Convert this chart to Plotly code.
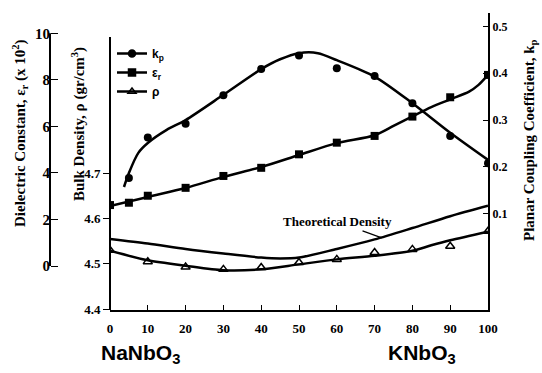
import plotly.graph_objects as go

# ---------------- data ----------------
# x: mol % KNbO3
kp_x = [5, 10, 20, 30, 40, 50, 60, 70, 80, 90, 100]
kp_vals = [0.176, 0.263, 0.292, 0.353, 0.409, 0.438, 0.411, 0.394, 0.336, 0.266, 0.208]
kp_curve_x = [3.7, 5, 7.5, 10, 15, 20, 30, 40, 45, 50, 55, 60, 70, 80, 90, 100]
kp_curve_vals = [0.157, 0.187, 0.230, 0.251, 0.279, 0.300, 0.354, 0.409, 0.430, 0.443,
                 0.443, 0.428, 0.393, 0.336, 0.273, 0.215]

eps_x = [0, 5, 10, 20, 30, 40, 50, 60, 70, 80, 90, 100]
eps_vals = [2.62, 2.72, 3.02, 3.36, 3.87, 4.22, 4.80, 5.30, 5.59, 6.42, 7.25, 8.21]
eps_curve_x = [0, 10, 20, 30, 40, 50, 60, 70, 75, 80, 85, 90, 95, 97.5, 100]
eps_curve_vals = [2.58, 2.97, 3.35, 3.83, 4.25, 4.77, 5.28, 5.62, 6.02, 6.43, 6.83,
                  7.16, 7.49, 7.78, 8.21]

rho_x = [0, 10, 20, 30, 40, 50, 60, 70, 80, 90, 100]
rho_vals = [4.530, 4.505, 4.493, 4.488, 4.492, 4.503, 4.510, 4.525, 4.532, 4.539, 4.572]
rho_curve_x = [0, 10, 20, 30, 40, 50, 60, 70, 80, 85, 90, 100]
rho_curve_vals = [4.529, 4.508, 4.496, 4.486, 4.488, 4.499, 4.510, 4.518, 4.529, 4.541,
                  4.552, 4.571]

theo_x = [0, 10, 20, 30, 40, 45, 50, 60, 70, 80, 90, 100]
theo_vals = [4.555, 4.545, 4.533, 4.523, 4.514, 4.512, 4.514, 4.533, 4.554, 4.579,
             4.605, 4.628]

x_ticks = [0, 10, 20, 30, 40, 50, 60, 70, 80, 90, 100]
rho_ticks = [4.4, 4.5, 4.6, 4.7]
eps_ticks = [0, 2, 4, 6, 8, 10]
kp_ticks = [0.1, 0.2, 0.3, 0.4, 0.5]

legend_names = ["k<sub>p</sub>", "ε<sub>r</sub>", "ρ"]

# ---------------- figure ----------------
SERIF = "Liberation Serif"
SANS = "Liberation Sans"
BLACK = "black"

fig = go.Figure()

curve_line = dict(color=BLACK, width=2.5, shape="spline", smoothing=0.8)

fig.add_trace(go.Scatter(x=kp_curve_x, y=kp_curve_vals, yaxis="y3", mode="lines",
                         line=curve_line, showlegend=False, hoverinfo="skip"))
fig.add_trace(go.Scatter(x=kp_x, y=kp_vals, yaxis="y3", mode="markers",
                         marker=dict(symbol="circle", size=8, color=BLACK),
                         showlegend=False))

fig.add_trace(go.Scatter(x=eps_curve_x, y=eps_curve_vals, yaxis="y2", mode="lines",
                         line=curve_line, showlegend=False, hoverinfo="skip"))
fig.add_trace(go.Scatter(x=eps_x, y=eps_vals, yaxis="y2", mode="markers",
                         marker=dict(symbol="square", size=8, color=BLACK),
                         showlegend=False))

fig.add_trace(go.Scatter(x=theo_x, y=theo_vals, yaxis="y", mode="lines",
                         line=curve_line, showlegend=False, hoverinfo="skip"))
fig.add_trace(go.Scatter(x=rho_curve_x, y=rho_curve_vals, yaxis="y", mode="lines",
                         line=curve_line, showlegend=False, hoverinfo="skip"))
fig.add_trace(go.Scatter(x=rho_x, y=rho_vals, yaxis="y", mode="markers",
                         marker=dict(symbol="triangle-up-open", size=8, color=BLACK,
                                     line=dict(width=1.5, color=BLACK)),
                         showlegend=False))

# legend entries
for name, sym in zip(legend_names, ["circle", "square", "triangle-up-open"]):
    fig.add_trace(go.Scatter(x=[None], y=[None], mode="lines+markers", name=name,
                             line=dict(color=BLACK, width=2.5),
                             marker=dict(symbol=sym, size=7, color=BLACK,
                                         line=dict(width=1.5, color=BLACK))))

W, H = 542, 373
L, R, T, B = 0, 54, 13, 63
pw = W - L - R  # 488
ph = H - T - B  # 297

def px(xp):
    return (xp - L) / pw

def py(yp):
    return (T + ph - yp) / ph

tick_font = lambda s: dict(family=SERIF, size=s, color=BLACK, weight="bold")

fig.update_layout(
    width=W, height=H,
    margin=dict(l=L, r=R, t=T, b=B),
    paper_bgcolor="white", plot_bgcolor="white",
    showlegend=True,
    legend=dict(x=px(112), y=py(39), xanchor="left", yanchor="top",
                bgcolor="rgba(0,0,0,0)",
                font=dict(family=SANS, size=12, color=BLACK, weight="bold"),
                itemwidth=30, tracegroupgap=0),
    xaxis=dict(domain=[px(110), 1], range=[0, 100], tickvals=x_ticks,
               showgrid=False, zeroline=False, showline=True, linecolor=BLACK,
               linewidth=2, ticks="inside", ticklen=5, tickwidth=1.2, tickcolor=BLACK,
               tickfont=tick_font(13), ticklabelstandoff=5, automargin=False),
    yaxis=dict(range=[4.3985, 5.0527], tickvals=rho_ticks, ticktext=["4.4", "4.5", "4.6", "4.7"],
               showgrid=False, zeroline=False, showline=False,
               ticks="outside", ticklen=6, tickwidth=1.2, tickcolor=BLACK,
               tickfont=tick_font(13), automargin=False),
    yaxis2=dict(range=[-1.888, 10.870], tickvals=eps_ticks, overlaying="y",
                anchor="free", position=px(50), side="left",
                showgrid=False, zeroline=False, showline=False,
                ticks="inside", ticklen=7, tickwidth=1.2, tickcolor=BLACK,
                tickfont=tick_font(15), automargin=False),
    yaxis3=dict(range=[-0.1058, 0.5288], tickvals=kp_ticks, overlaying="y",
                anchor="x", side="right",
                showgrid=False, zeroline=False, showline=True, linecolor=BLACK,
                linewidth=2, ticks="inside", ticklen=5, tickwidth=1.2, tickcolor=BLACK,
                tickfont=tick_font(12), automargin=False),
)

# axis lines for the two left axes (limited extent like the reference)
fig.add_shape(type="line", xref="paper", yref="y", x0=px(110), x1=px(110),
              y0=4.3985, y1=5.0, line=dict(color=BLACK, width=2))
fig.add_shape(type="line", xref="paper", yref="y2", x0=px(50), x1=px(50),
              y0=0, y1=10, line=dict(color=BLACK, width=2))

# axis titles
title_font = dict(family=SERIF, size=15, color=BLACK)
fig.add_annotation(text="<b>Dielectric Constant, ε<sub>r</sub> (x 10<sup>2</sup>)</b>",
                   xref="paper", yref="paper", x=px(20), y=py(133), textangle=-90,
                   showarrow=False, font=title_font, xanchor="center", yanchor="middle")
fig.add_annotation(text="<b>Bulk Density, ρ (gr/cm<sup>3</sup>)</b>",
                   xref="paper", yref="paper", x=px(79), y=py(124), textangle=-90,
                   showarrow=False, font=title_font, xanchor="center", yanchor="middle")
fig.add_annotation(text="<b>Planar Coupling Coefficient, k<sub>p</sub></b>",
                   xref="paper", yref="paper", x=px(530), y=py(140), textangle=-90,
                   showarrow=False, font=title_font, xanchor="center", yanchor="middle")

# composition labels
comp_font = dict(family=SANS, size=21, color=BLACK)
fig.add_annotation(text="<b>NaNbO<sub>3</sub></b>", xref="paper", yref="paper",
                   x=px(99), y=py(369), showarrow=False, font=comp_font)
fig.add_annotation(text="<b>KNbO<sub>3</sub></b>", xref="paper", yref="paper",
                   x=px(458), y=py(369), showarrow=False, font=comp_font)

# theoretical density label with pointer
fig.add_annotation(text="<b>Theoretical Density</b>", xref="x", yref="y",
                   x=71.9, y=4.5575, ax=-44, ay=-16, showarrow=True, arrowhead=0,
                   arrowwidth=1.2, arrowcolor=BLACK,
                   font=dict(family=SERIF, size=13, color=BLACK))

fig.write_html("out.html", post_script="document.body.style.margin='0';",
               config={"displayModeBar": False})
